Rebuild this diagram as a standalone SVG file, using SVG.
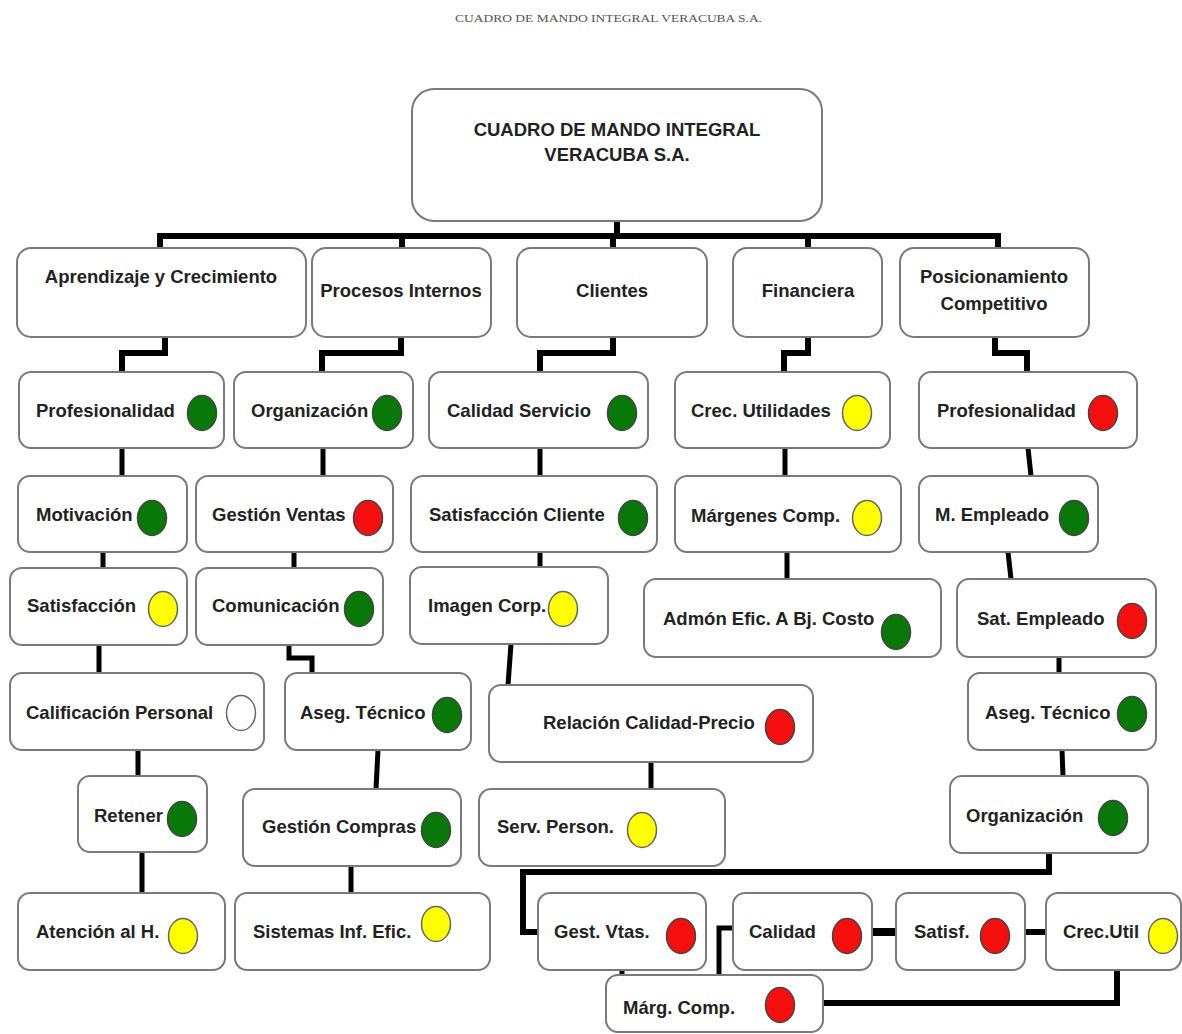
<svg xmlns="http://www.w3.org/2000/svg" width="1182" height="1034" viewBox="0 0 1182 1034">
<style>
.box{fill:#fff;stroke:#7a7a7a;stroke-width:2}
.t{font-family:"Liberation Sans",Arial,sans-serif;font-weight:bold;font-size:18.5px;fill:#222}
.m{text-anchor:middle}
.g{fill:#087808;stroke:#444;stroke-width:1.5}
.r{fill:#f50f0f;stroke:#444;stroke-width:1.5}
.y{fill:#ffff00;stroke:#666;stroke-width:1.5}
.w{fill:#fff;stroke:#666;stroke-width:1.5}
.c{fill:none;stroke:#000;stroke-width:6;stroke-linejoin:miter;stroke-linecap:butt}
.c2{fill:none;stroke:#000;stroke-width:5}
.title{font-family:"Liberation Serif","Times New Roman",serif;font-size:11px;fill:#555}
</style>
<rect width="1182" height="1034" fill="#fff"/>
<text class="title" x="455" y="22" textLength="307" lengthAdjust="spacingAndGlyphs">CUADRO DE MANDO INTEGRAL VERACUBA S.A.</text>

<g id="connectors">
<path class="c" d="M617,221 V236 M160,248 V236 H998 V248 M402,236 V248 M613,236 V248 M808,236 V248"/>
<path class="c" d="M165,337 V353 H122 V372 M401,337 V353 H322 V372 M613,337 V353 H540 V372 M808,337 V353 H784 V372 M995,337 V353 H1027 V372"/>
<path class="c2" d="M122,448 V476 M323,448 V476 M540,448 V476 M785,448 V476 M1028,448 L1031,476"/>
<path class="c2" d="M103,552 V568 M294,552 V568 M540,552 V567 M787,552 V579 M1008,552 L1011,579"/>
<path class="c2" d="M289,645 V658 H312 V673 M99,645 V673 M511,644 L508,685 M1059,657 V673"/>
<path class="c2" d="M138,750 V776 M378,750 L376,789 M651,762 V789 M1062,750 L1063,776"/>
<path class="c2" d="M142,852 V893 M351,866 V893"/>
<path class="c" d="M1049,853 V872 H523 V932 H538"/>
<path class="c" d="M872,932 H896" style="stroke-width:8"/>
<path class="c" d="M1025,932 H1046"/>
<path class="c2" d="M733,928 H719 V975 M622,970 V975"/>
<path class="c" d="M1117,970 V1003 H823"/>
</g>

<g id="n-root"><rect class="box" x="412" y="89" width="410" height="132" rx="22"/>
<text class="t m" x="617" y="136">CUADRO DE MANDO INTEGRAL</text>
<text class="t m" x="617" y="161">VERACUBA S.A.</text></g>

<g id="n-aprendizaje"><rect class="box" x="17" y="248" width="289" height="89" rx="14"/><text class="t m" x="161" y="283">Aprendizaje y Crecimiento</text></g>
<g id="n-procesos"><rect class="box" x="312" y="248" width="179" height="89" rx="14"/><text class="t m" x="401" y="297">Procesos Internos</text></g>
<g id="n-clientes"><rect class="box" x="517" y="248" width="190" height="89" rx="14"/><text class="t m" x="612" y="297">Clientes</text></g>
<g id="n-financiera"><rect class="box" x="733" y="248" width="149" height="89" rx="14"/><text class="t m" x="808" y="297">Financiera</text></g>
<g id="n-posicionamiento"><rect class="box" x="900" y="248" width="189" height="89" rx="14"/><text class="t m" x="994" y="283">Posicionamiento</text><text class="t m" x="994" y="310">Competitivo</text></g>

<g id="n-prof1"><rect class="box" x="19" y="372" width="205" height="76" rx="12"/><text class="t" x="36" y="417">Profesionalidad</text><ellipse class="g" cx="202" cy="413" rx="14.5" ry="17.5"/></g>
<g id="n-org1"><rect class="box" x="234" y="372" width="179" height="76" rx="12"/><text class="t" x="251" y="417">Organización</text><ellipse class="g" cx="387" cy="413" rx="14.5" ry="17.5"/></g>
<g id="n-calserv"><rect class="box" x="429" y="372" width="219" height="76" rx="12"/><text class="t" x="447" y="417">Calidad Servicio</text><ellipse class="g" cx="622" cy="413" rx="14.5" ry="17.5"/></g>
<g id="n-crecutil"><rect class="box" x="675" y="372" width="215" height="76" rx="12"/><text class="t" x="691" y="417">Crec. Utilidades</text><ellipse class="y" cx="857" cy="413" rx="14.5" ry="17.5"/></g>
<g id="n-prof2"><rect class="box" x="919" y="372" width="218" height="76" rx="12"/><text class="t" x="937" y="417">Profesionalidad</text><ellipse class="r" cx="1103" cy="413" rx="14.5" ry="17.5"/></g>

<g id="n-motivacion"><rect class="box" x="18" y="476" width="169" height="76" rx="12"/><text class="t" x="36" y="521">Motivación</text><ellipse class="g" cx="152" cy="518" rx="14.5" ry="17.5"/></g>
<g id="n-gestventas"><rect class="box" x="196" y="476" width="197" height="76" rx="12"/><text class="t" x="212" y="521">Gestión Ventas</text><ellipse class="r" cx="368" cy="518" rx="14.5" ry="17.5"/></g>
<g id="n-satcliente"><rect class="box" x="411" y="476" width="246" height="76" rx="12"/><text class="t" x="429" y="521">Satisfacción Cliente</text><ellipse class="g" cx="633" cy="518" rx="14.5" ry="17.5"/></g>
<g id="n-margenes"><rect class="box" x="675" y="476" width="226" height="76" rx="12"/><text class="t" x="691" y="522">Márgenes Comp.</text><ellipse class="y" cx="867" cy="518" rx="14.5" ry="17.5"/></g>
<g id="n-mempleado"><rect class="box" x="919" y="476" width="179" height="76" rx="12"/><text class="t" x="935" y="521">M. Empleado</text><ellipse class="g" cx="1074" cy="518" rx="14.5" ry="17.5"/></g>

<g id="n-satisfaccion"><rect class="box" x="10" y="568" width="177" height="77" rx="12"/><text class="t" x="27" y="612">Satisfacción</text><ellipse class="y" cx="163" cy="609" rx="14.5" ry="17.5"/></g>
<g id="n-comunicacion"><rect class="box" x="196" y="568" width="187" height="77" rx="12"/><text class="t" x="212" y="612">Comunicación</text><ellipse class="g" cx="359" cy="609" rx="14.5" ry="17.5"/></g>
<g id="n-imagen"><rect class="box" x="410" y="567" width="198" height="77" rx="12"/><text class="t" x="428" y="612">Imagen Corp.</text><ellipse class="y" cx="563" cy="609" rx="14.5" ry="17.5"/></g>
<g id="n-admon"><rect class="box" x="644" y="579" width="297" height="78" rx="12"/><text class="t" x="663" y="625">Admón Efic. A Bj. Costo</text><ellipse class="g" cx="896" cy="632" rx="14.5" ry="17.5"/></g>
<g id="n-satempleado"><rect class="box" x="957" y="579" width="199" height="78" rx="12"/><text class="t" x="977" y="625">Sat. Empleado</text><ellipse class="r" cx="1132" cy="621" rx="14.5" ry="17.5"/></g>

<g id="n-calificacion"><rect class="box" x="10" y="673" width="254" height="77" rx="12"/><text class="t" x="26" y="719">Calificación Personal</text><ellipse class="w" cx="241" cy="713" rx="14.5" ry="17.5"/></g>
<g id="n-aseg1"><rect class="box" x="285" y="673" width="186" height="77" rx="12"/><text class="t" x="300" y="719">Aseg. Técnico</text><ellipse class="g" cx="447" cy="715" rx="14.5" ry="17.5"/></g>
<g id="n-relacion"><rect class="box" x="489" y="685" width="324" height="77" rx="12"/><text class="t" x="543" y="729">Relación Calidad-Precio</text><ellipse class="r" cx="780" cy="727" rx="14.5" ry="17.5"/></g>
<g id="n-aseg2"><rect class="box" x="968" y="673" width="188" height="77" rx="12"/><text class="t" x="985" y="719">Aseg. Técnico</text><ellipse class="g" cx="1132" cy="714" rx="14.5" ry="17.5"/></g>

<g id="n-retener"><rect class="box" x="78" y="776" width="129" height="76" rx="12"/><text class="t" x="94" y="822">Retener</text><ellipse class="g" cx="182" cy="819" rx="14.5" ry="17.5"/></g>
<g id="n-gestcompras"><rect class="box" x="243" y="789" width="218" height="77" rx="12"/><text class="t" x="262" y="833">Gestión Compras</text><ellipse class="g" cx="436" cy="830" rx="14.5" ry="17.5"/></g>
<g id="n-servperson"><rect class="box" x="479" y="789" width="246" height="77" rx="12"/><text class="t" x="497" y="833">Serv. Person.</text><ellipse class="y" cx="642" cy="830" rx="14.5" ry="17.5"/></g>
<g id="n-org2"><rect class="box" x="950" y="776" width="198" height="77" rx="12"/><text class="t" x="966" y="822">Organización</text><ellipse class="g" cx="1113" cy="818" rx="14.5" ry="17.5"/></g>

<g id="n-atencion"><rect class="box" x="18" y="893" width="207" height="77" rx="12"/><text class="t" x="36" y="938">Atención al H.</text><ellipse class="y" cx="183" cy="936" rx="14.5" ry="17.5"/></g>
<g id="n-sistemas"><rect class="box" x="235" y="893" width="255" height="77" rx="12"/><text class="t" x="253" y="938">Sistemas Inf. Efic.</text><ellipse class="y" cx="436" cy="924" rx="14.5" ry="17.5"/></g>
<g id="n-gestvtas"><rect class="box" x="538" y="893" width="168" height="77" rx="12"/><text class="t" x="554" y="938">Gest. Vtas.</text><ellipse class="r" cx="681" cy="936" rx="14.5" ry="17.5"/></g>
<g id="n-calidad"><rect class="box" x="733" y="893" width="139" height="77" rx="12"/><text class="t" x="749" y="938">Calidad</text><ellipse class="r" cx="847" cy="936" rx="14.5" ry="17.5"/></g>
<g id="n-satisf"><rect class="box" x="896" y="893" width="129" height="77" rx="12"/><text class="t" x="914" y="938">Satisf.</text><ellipse class="r" cx="995" cy="936" rx="14.5" ry="17.5"/></g>
<g id="n-crecutil2"><rect class="box" x="1046" y="893" width="135" height="77" rx="12"/><text class="t" x="1063" y="938">Crec.Util</text><ellipse class="y" cx="1163" cy="936" rx="14.5" ry="17.5"/></g>
<g id="n-margcomp"><rect class="box" x="606" y="975" width="217" height="57" rx="12"/><text class="t" x="623" y="1014">Márg. Comp.</text><ellipse class="r" cx="780" cy="1005" rx="14.5" ry="17.5"/></g>
</svg>
